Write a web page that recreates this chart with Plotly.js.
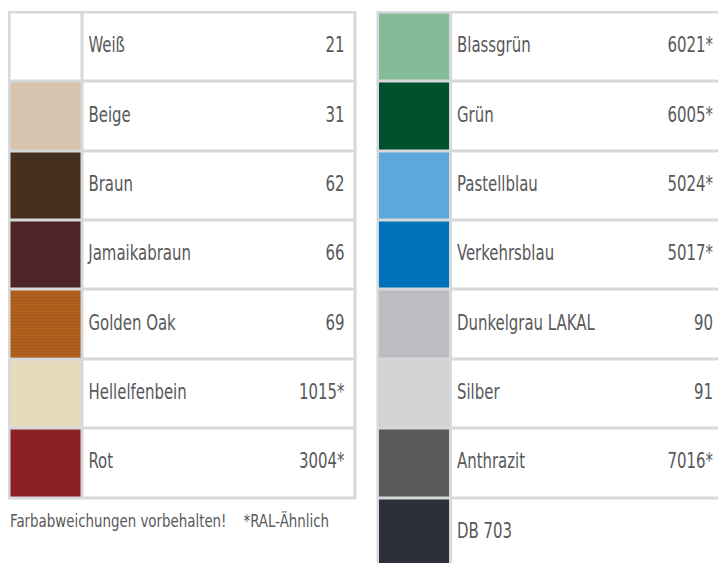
<!DOCTYPE html>
<html>
<head>
<meta charset="utf-8">
<script src="https://cdn.plot.ly/plotly-3.0.1.min.js"></script>
<style>html,body{margin:0;padding:0;background:#fff;}#chart{width:718px;height:563px;}</style>
</head>
<body>
<div id="chart"></div>
<script>
// ---- data ----
const leftNames  = ['Weiß', 'Beige', 'Braun', 'Jamaikabraun', 'Golden Oak', 'Hellelfenbein', 'Rot'];
const leftCodes  = ['21', '31', '62', '66', '69', '1015*', '3004*'];
const leftColors = ['#ffffff', '#d6c4ae', '#45301f', '#4f2427', '#b2601e', '#e6dcbc', '#8b2025'];

const rightNames  = ['Blassgrün', 'Grün', 'Pastellblau', 'Verkehrsblau', 'Dunkelgrau LAKAL', 'Silber', 'Anthrazit', 'DB 703'];
const rightCodes  = ['6021*', '6005*', '5024*', '5017*', '90', '91', '7016*', ''];
const rightColors = ['#86bb97', '#00502e', '#5ba8dc', '#0072bc', '#bbbdc0', '#d1d3d4', '#58595b', '#2b2f3a'];

const footnote = 'Farbabweichungen vorbehalten!&nbsp;&nbsp;&nbsp;&nbsp;*RAL-Ähnlich';
const woodRow = 'Golden Oak';

// ---- layout constants (pixels) ----
const W = 718, HT = 563;
const ROW_H = 69.36, GAP = 3, HALF = GAP / 2;
const SWATCH_W = 73, TABLE_W = 345.5;
const NAME_X = 79, CODE_X = 335;
const TOP = 12.5;
const LEFT_X = 9.5, RIGHT_X = 378;
const BORDER_COL = '#d6d8da', TEXT_COL = '#58595b';
const FONT = '"Liberation Sans Narrow", "DejaVu Sans Condensed", "Arial Narrow", sans-serif';
const LABEL_SIZE = 20.5, LABEL_SQUEEZE = 0.81;
const NOTE_SIZE = 17.5, NOTE_SQUEEZE = 0.85;

function tableTraces(names, codes, colors, xa, ya) {
  const n = names.length;
  const palette = colors.concat(['#ffffff']);
  const cs = palette.map((c, i) => [i / n, c]);
  const rows = names.map((_, i) => i);
  const traces = [{
    type: 'heatmap', xaxis: xa, yaxis: ya,
    x: [0, SWATCH_W, TABLE_W], y: rows,
    z: rows.map(i => [i, n]),
    zmin: 0, zmax: n, colorscale: cs, showscale: false,
    xgap: GAP, ygap: GAP, hoverinfo: 'skip'
  }, {
    type: 'scatter', mode: 'text', xaxis: xa, yaxis: ya,
    x: names.map(() => NAME_X), y: rows, text: names,
    textposition: 'middle right', hoverinfo: 'skip',
    textfont: {family: FONT, size: LABEL_SIZE, color: TEXT_COL}
  }, {
    type: 'scatter', mode: 'text', xaxis: xa, yaxis: ya,
    x: codes.map(() => CODE_X), y: rows, text: codes,
    textposition: 'middle left', hoverinfo: 'skip',
    textfont: {family: FONT, size: LABEL_SIZE, color: TEXT_COL}
  }];
  const wi = names.indexOf(woodRow);
  if (wi >= 0) {
    traces.push({
      type: 'bar', orientation: 'h', xaxis: xa, yaxis: ya,
      y: [wi], x: [SWATCH_W - GAP], base: [HALF],
      width: (ROW_H - GAP) / ROW_H,
      marker: {color: colors[wi], line: {width: 0},
        pattern: {shape: '-', fgcolor: '#7e3f10', fgopacity: 0.25, size: 3, solidity: 0.3}},
      hoverinfo: 'skip'
    });
  }
  return traces;
}

const data = [].concat(
  tableTraces(leftNames, leftCodes, leftColors, 'x', 'y'),
  tableTraces(rightNames, rightCodes, rightColors, 'x2', 'y2')
);

const py = p => 1 - p / HT;
const px = p => p / W;
const hidden = {showgrid: false, zeroline: false, showticklabels: false, ticks: '', showline: false, fixedrange: true};

const yTopVal = -0.5 - HALF / ROW_H;
const layout = {
  width: W, height: HT,
  margin: {l: 0, r: 0, t: 0, b: 0, pad: 0},
  paper_bgcolor: '#ffffff', plot_bgcolor: BORDER_COL,
  showlegend: false, barmode: 'overlay',
  xaxis: Object.assign({}, hidden, {domain: [px(LEFT_X - HALF), px(LEFT_X + TABLE_W + HALF)], range: [-HALF, TABLE_W + HALF], anchor: 'y'}),
  yaxis: Object.assign({}, hidden, {domain: [py(TOP + leftNames.length * ROW_H + HALF), py(TOP - HALF)],
    range: [leftNames.length - 0.5 + HALF / ROW_H, yTopVal], anchor: 'x'}),
  xaxis2: Object.assign({}, hidden, {domain: [px(RIGHT_X - HALF), 1], range: [-HALF, W - RIGHT_X], anchor: 'y2'}),
  yaxis2: Object.assign({}, hidden, {domain: [0, py(TOP - HALF)],
    range: [yTopVal + (HT - (TOP - HALF)) / ROW_H, yTopVal], anchor: 'x2'}),
  annotations: [{
    xref: 'paper', yref: 'paper', x: px(LEFT_X - 2), y: py(521), xanchor: 'left', yanchor: 'middle',
    text: footnote, showarrow: false, font: {family: FONT, size: NOTE_SIZE, color: TEXT_COL}
  }]
};

// narrow the labels so they look like the condensed face of the original
function squeeze(gd) {
  const names = leftNames.concat(rightNames);
  const codes = leftCodes.concat(rightCodes);
  gd.querySelectorAll('.textpoint text').forEach(t => {
    const s = t.textContent;
    let origin = null;
    if (names.indexOf(s) >= 0) origin = 'left center';
    else if (codes.indexOf(s) >= 0) origin = 'right center';
    if (!origin) return;
    t.style.transformBox = 'fill-box';
    t.style.transformOrigin = origin;
    t.style.transform = 'scaleX(' + LABEL_SQUEEZE + ')';
  });
  gd.querySelectorAll('.annotation-text').forEach(t => {
    t.style.transformBox = 'fill-box';
    t.style.transformOrigin = 'left center';
    t.style.transform = 'scaleX(' + NOTE_SQUEEZE + ')';
  });
}

Plotly.newPlot('chart', data, layout, {staticPlot: true, displayModeBar: false})
  .then(gd => squeeze(gd));
</script>
</body>
</html>
